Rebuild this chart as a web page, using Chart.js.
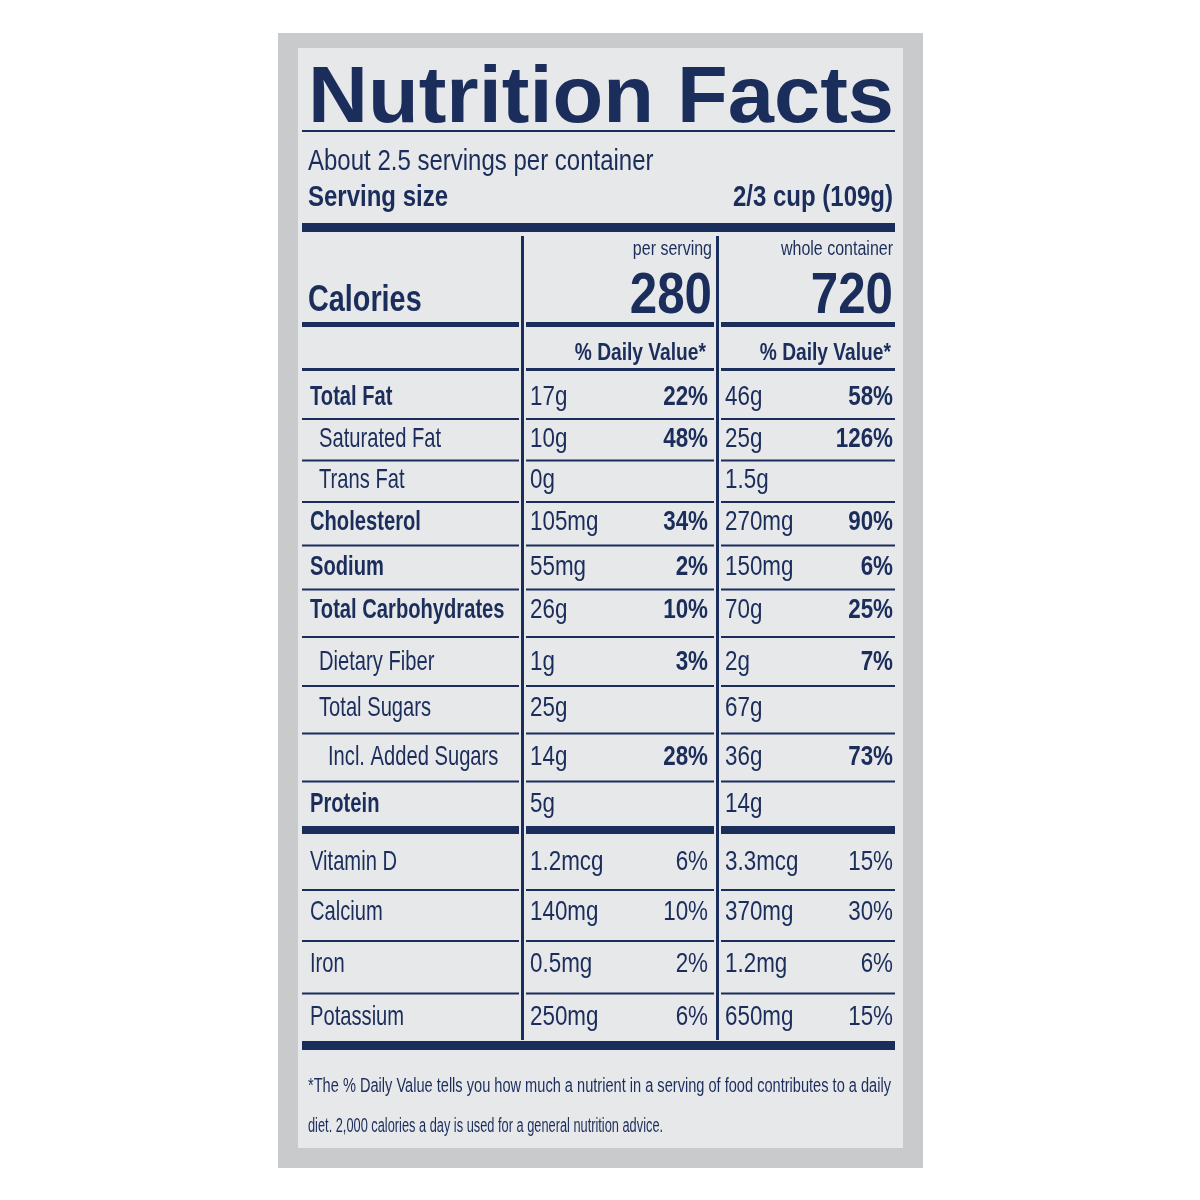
<!DOCTYPE html>
<html><head><meta charset="utf-8">
<script src="https://cdn.jsdelivr.net/npm/chart.js@4/dist/chart.umd.min.js"></script>
<style>html,body{margin:0;background:#fff}#c{display:block}</style>
</head><body>
<div style="width:1200px;height:1200px"><canvas id="c"></canvas></div>
<script>
const nutrients = ["Total Fat","Saturated Fat","Trans Fat","Cholesterol","Sodium","Total Carbohydrates","Dietary Fiber","Total Sugars","Incl. Added Sugars","Protein"];
const indent = [0,1,1,0,0,0,1,1,2,0];
const boldName = [1,0,0,1,1,1,0,0,0,1];
const perServing = ["17g","10g","0g","105mg","55mg","26g","1g","25g","14g","5g"];
const perServingDV = ["22%","48%","","34%","2%","10%","3%","","28%",""];
const wholeContainer = ["46g","25g","1.5g","270mg","150mg","70g","2g","67g","36g","14g"];
const wholeDV = ["58%","126%","","90%","6%","25%","7%","","73%",""];
const rowY = [395,437,478,520,565,608,660,706,755,802];
const vitamins = ["Vitamin D","Calcium","Iron","Potassium"];
const vitServing = ["1.2mcg","140mg","0.5mg","250mg"];
const vitServingDV = ["6%","10%","2%","6%"];
const vitWhole = ["3.3mcg","370mg","1.2mg","650mg"];
const vitWholeDV = ["15%","30%","6%","15%"];
const vitY = [860,910,962,1015];

const NAVY = "#1b2d5b";
const F = '"Liberation Sans",sans-serif';

const labelPlugin = {
  id: "label",
  afterDraw(chart) {
    const c = chart.ctx;
    c.save();
    c.fillStyle = "#c9cacb"; c.fillRect(278, 33, 645, 1135);
    c.fillStyle = "#e7e8ea"; c.fillRect(298, 48, 605, 1100);
    c.fillStyle = NAVY;
    // condensed text: draw with horizontal squeeze sx, or fit to width
    const txt = (s, x, y, size, bold, align, sx, fitW) => {
      if (!s) return;
      c.font = (bold ? "bold " : "") + size + "px " + F;
      c.textAlign = "left"; c.textBaseline = "alphabetic";
      const w = c.measureText(s).width;
      let k = sx || 0.8;
      if (fitW) k = fitW / w;
      const dw = w * k;
      const x0 = align === "right" ? x - dw : x;
      c.save(); c.translate(x0, y); c.scale(k, 1); c.fillText(s, 0, 0); c.restore();
    };
    const hl = (y, h, x0, x1) => c.fillRect(x0 || 302, y, (x1 || 895) - (x0 || 302), h);
    const hl3 = (y, h) => { hl(y, h, 302, 519); hl(y, h, 526, 714); hl(y, h, 721, 895); };
    txt("Nutrition Facts", 308, 122, 80, true, "left", 0, 586);
    hl(130, 2);
    txt("About 2.5 servings per container", 308, 170, 30, false);
    txt("Serving size", 308, 206, 30, true);
    txt("2/3 cup (109g)", 893, 206, 30, true, "right");
    hl(223, 9);
    c.fillRect(521, 236, 3, 804); c.fillRect(716, 236, 3, 804);
    txt("per serving", 712, 255, 20, false, "right");
    txt("whole container", 893, 255, 20, false, "right");
    txt("280", 712, 313, 58, true, "right", 0.85);
    txt("720", 893, 313, 58, true, "right", 0.85);
    txt("Calories", 308, 311, 36, true);
    hl3(322, 5);
    txt("% Daily Value*", 706, 360, 24, true, "right");
    txt("% Daily Value*", 891, 360, 24, true, "right");
    hl3(368, 3);
    rowY.forEach((y, i) => {
      txt(nutrients[i], 310 + indent[i] * 9, y + 10, 28, boldName[i], "left", 0.72);
      txt(perServing[i], 530, y + 10, 28, false);
      txt(perServingDV[i], 708, y + 10, 28, true, "right");
      txt(wholeContainer[i], 725, y + 10, 28, false);
      txt(wholeDV[i], 893, y + 10, 28, true, "right");
      if (i < rowY.length - 1) hl3((y + rowY[i + 1]) / 2 + 2, 2);
    });
    hl3(826, 8);
    vitY.forEach((y, i) => {
      txt(vitamins[i], 310, y + 10, 28, false, "left", 0.72);
      txt(vitServing[i], 530, y + 10, 28, false);
      txt(vitServingDV[i], 708, y + 10, 28, false, "right");
      txt(vitWhole[i], 725, y + 10, 28, false);
      txt(vitWholeDV[i], 893, y + 10, 28, false, "right");
      if (i < vitY.length - 1) hl3((y + vitY[i + 1]) / 2 + 4, 2);
    });
    hl(1041, 9);
    txt("*The % Daily Value tells you how much a nutrient in a serving of food contributes to a daily", 308, 1092, 20, false, "left", 0, 583);
    txt("diet. 2,000 calories a day is used for a general nutrition advice.", 308, 1132, 20, false, "left", 0.64);
    c.restore();
  }
};

new Chart(document.getElementById("c"), {
  type: "bar",
  data: { labels: nutrients, datasets: [{ data: [], backgroundColor: NAVY }] },
  options: {
    responsive: true, maintainAspectRatio: false, animation: false,
    plugins: { legend: { display: false }, tooltip: { enabled: false } },
    scales: { x: { display: false }, y: { display: false } }
  },
  plugins: [labelPlugin]
});
</script>
</body></html>
